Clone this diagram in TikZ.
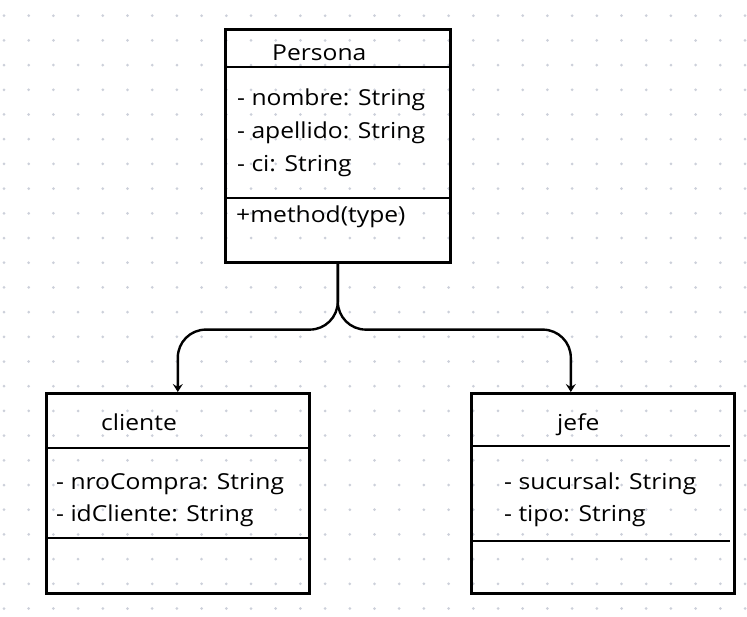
\documentclass[tikz,border=0pt]{standalone}
\usepackage{fontspec}
\setmainfont{Open Sans}
\newfontfamily\umlfont[FakeStretch=1.12]{Open Sans}
\usetikzlibrary{arrows.meta}

\definecolor{dotgray}{RGB}{204,208,218}
\tikzset{
    classbox/.style={draw, line width=2.6bp, inner sep=0pt, anchor=north west},
    divider/.style={line width=2.4bp},
    member/.style={inner sep=0pt, anchor=base west, font=\umlfont\fontsize{22bp}{26bp}\selectfont},
    inherit/.style={line width=2.4bp, rounded corners=28bp, -{Stealth[length=8bp, width=10bp, inset=3bp]}}
}

\begin{document}
\begin{tikzpicture}[x=1bp, y=-1bp]
    \useasboundingbox (0,0) rectangle (747,617);

    % dot grid
    \foreach \i in {0,...,30}
        \foreach \j in {0,...,24}
            \fill[dotgray] (4+24.7*\i, 15.7+24.7*\j) circle (1.5);

    % classes
    \node[classbox, minimum width=225bp, minimum height=233bp] (persona) at (224,28) {};
    \node[classbox, minimum width=263bp, minimum height=200bp] (cliente) at (45,392) {};
    \node[classbox, minimum width=263bp, minimum height=200bp] (jefe) at (470,392) {};

    \draw[divider] ([yshift=-39bp]persona.north west) -- ([yshift=-39bp]persona.north east);
    \draw[divider] ([yshift=-170bp]persona.north west) -- ([yshift=-170bp]persona.north east);
    \draw[divider] ([yshift=-56bp]cliente.north west) -- ([yshift=-56bp]cliente.north east);
    \draw[divider] ([yshift=-146bp]cliente.north west) -- ([yshift=-146bp]cliente.north east);
    \draw[divider] ([yshift=-54bp]jefe.north west) -- ([yshift=-54bp, xshift=-6bp]jefe.north east);
    \draw[divider] ([yshift=-149bp]jefe.north west) -- ([yshift=-149bp, xshift=-6bp]jefe.north east);

    % texts
    \node[member] (personaname) at (272,61) {Persona};
    \node[member] (nombre) at (237,106) {- nombre: String};
    \node[member] (apellido) at (237,138.5) {- apellido: String};
    \node[member] (ci) at (237,171.5) {- ci: String};
    \node[member] (method) at (236,223) {+method(type)};

    \node[member] (clientename) at (101,430) {cliente};
    \node[member] (nrocompra) at (56,489.5) {- nroCompra: String};
    \node[member] (idcliente) at (56,521.5) {- idCliente: String};

    \node[member] (jefename) at (557,430) {jefe};
    \node[member] (sucursal) at (504,489) {- sucursal: String};
    \node[member] (tipo) at (504,521.5) {- tipo: String};

    % inheritance
    \draw[inherit] (persona.south) -- ++(0,66) -| (cliente.north);
    \draw[inherit] (persona.south) -- ++(0,66) -| ([xshift=-32bp]jefe.north);
\end{tikzpicture}
\end{document}
